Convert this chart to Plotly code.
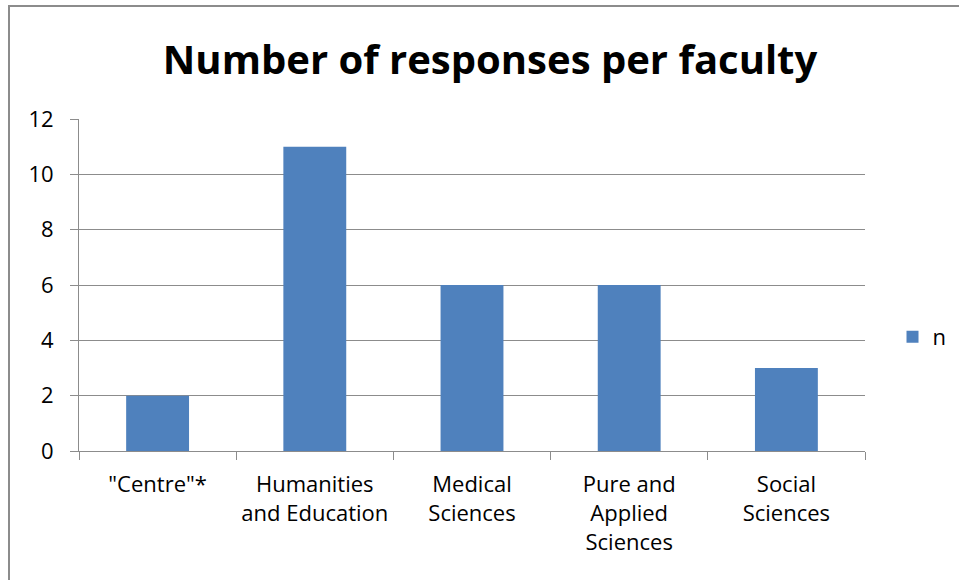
import plotly.graph_objects as go

# Survey responses by faculty
faculties = ['"Centre"*', "Humanities<br>and Education", "Medical<br>Sciences",
             "Pure and<br>Applied<br>Sciences", "Social<br>Sciences"]
responses = [2, 11, 6, 6, 3]
y_ticks = [0, 2, 4, 6, 8, 10, 12]

W, H = 959, 580
left, right, top, bottom = 79, 865, 119, 451

fig = go.Figure(
    go.Bar(
        x=faculties,
        y=responses,
        name="n",
        marker=dict(color="#4F81BD", line=dict(width=0)),
        showlegend=True,
    )
)

font_family = "Open Sans, Lato, sans-serif"
grid = "#8C8C8C"

fig.update_layout(
    width=W,
    height=H,
    margin=dict(l=left, r=W - right, t=top, b=H - bottom, pad=0, autoexpand=False),
    paper_bgcolor="white",
    plot_bgcolor="white",
    bargap=0.6,
    font=dict(family=font_family, size=22, color="#000000"),
    title=dict(
        text="<b>Number of responses per faculty</b>",
        x=0.511, xref="container", xanchor="center",
        y=1 - 60 / H, yref="container", yanchor="middle",
        font=dict(family=font_family, size=40, color="#000000"),
    ),
    xaxis=dict(
        showline=True, linecolor=grid, linewidth=1,
        ticks="outside", tickson="boundaries", ticklen=8, tickcolor=grid,
        showgrid=False,
        tickangle=0,
        tickfont=dict(size=22),
        ticklabelstandoff=14,
    ),
    yaxis=dict(
        range=[0, 12],
        tickvals=y_ticks,
        showline=True, linecolor=grid, linewidth=1,
        ticks="outside", ticklen=8, tickcolor=grid,
        showgrid=True, gridcolor=grid, gridwidth=1,
        zeroline=False,
        tickfont=dict(size=22),
        ticklabelstandoff=12,
    ),
    legend=dict(
        x=1.035, xanchor="left",
        y=(bottom - 337) / (bottom - top), yanchor="middle",
        font=dict(size=22),
        itemwidth=30,
        bgcolor="rgba(0,0,0,0)",
    ),
    shapes=[
        dict(
            type="rect", xref="paper", yref="paper",
            x0=(9 - left) / (right - left), x1=(975 - left) / (right - left),
            y0=(bottom - 600) / (bottom - top), y1=(bottom - 6) / (bottom - top),
            line=dict(color="#8C8C8C", width=2),
            fillcolor="rgba(0,0,0,0)",
            layer="below",
        )
    ],
)

fig.write_html("out.html")
